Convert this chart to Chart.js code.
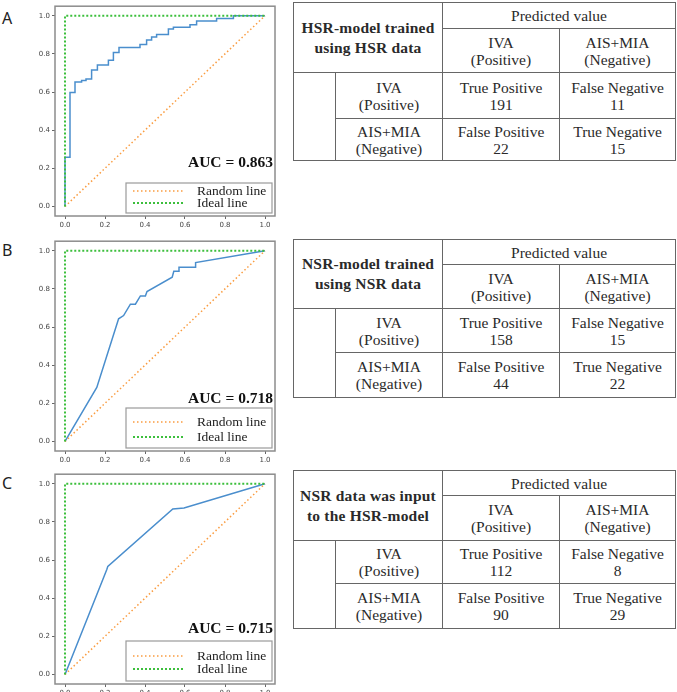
<!DOCTYPE html>
<html>
<head>
<meta charset="utf-8">
<script src="https://cdn.jsdelivr.net/npm/chart.js@4.4.0/dist/chart.umd.min.js"></script>
<style>
body { margin:0; width:677px; height:692px; overflow:hidden; background:#fff; position:relative; }
.letter { position:absolute; left:2px; font-family:"Noto Sans", sans-serif; font-size:16px; color:#222; line-height:1; }
canvas { position:absolute; left:0; }
table.cm { position:absolute; left:293px; border-collapse:collapse; table-layout:fixed; width:382px;
  font-family:"Liberation Serif", "Times New Roman", serif; font-size:15.5px; color:#2a2a2a; border:1.5px solid #555; }
table.cm td { border:1px solid #666; text-align:center; vertical-align:middle; padding:0; line-height:17px; }
table.cm td.title { font-weight:bold; font-size:15.5px; line-height:20px; letter-spacing:0.2px; }
</style>
</head>
<body>
<script>
// ROC curves
const fprA = [0, 0, 0.025, 0.05, 0.083, 0.105, 0.133, 0.162, 0.217, 0.242, 0.27, 0.375, 0.408, 0.433, 0.458, 0.517, 0.542, 0.625, 0.658, 0.758, 0.842, 1.0]
const tprA = [0, 0.258, 0.597, 0.653, 0.66, 0.668, 0.715, 0.742, 0.766, 0.807, 0.834, 0.849, 0.873, 0.888, 0.902, 0.931, 0.94, 0.953, 0.973, 0.986, 1.0, 1.0]
const fprB = [0, 0.159, 0.268, 0.293, 0.327, 0.352, 0.377, 0.402, 0.41, 0.536, 0.544, 0.57, 0.57, 0.65, 0.653, 1.0]
const tprB = [0, 0.283, 0.643, 0.66, 0.72, 0.72, 0.763, 0.763, 0.786, 0.861, 0.892, 0.892, 0.914, 0.914, 0.938, 1.0]
const fprC = [0, 0.209, 0.214, 0.539, 0.595, 1.0]
const tprC = [0, 0.55, 0.567, 0.868, 0.873, 1.0]

const randomX = [0, 1]
const randomY = [0, 1]
const idealX = [0, 0, 1]
const idealY = [0, 1, 1]

const tickValues = [0, 0.2, 0.4, 0.6, 0.8, 1.0]
const panelLetters = ['A', 'B', 'C']
const aucValues = [0.863, 0.718, 0.715]

// confusion matrices
const tableTitles = [['HSR-model trained', 'using HSR data'], ['NSR-model trained', 'using NSR data'], ['NSR data was input', 'to the HSR-model']]
const classLabels = [['IVA', '(Positive)'], ['AIS+MIA', '(Negative)']]
const truePositive = [191, 158, 112]
const falseNegative = [11, 15, 8]
const falsePositive = [22, 44, 90]
const trueNegative = [15, 22, 29]

// layout (pixels)
const canvasTops = [0, 235, 468]
const letterTops = [10, 242, 475]
const tableTops = [2, 239, 470]
const tableRows = [[26, 44, 46, 42], [25, 44, 44, 45], [25, 45, 43, 45]]
const legendLayout = [
  { box: 33, rows: [25, 13], auc: 53 },
  { box: 43, rows: [29, 14], auc: 52 },
  { box: 43, rows: [28, 15], auc: 55 }
]

const rocDecor = {
  id: 'rocDecor',
  afterDatasetsDraw(chart, args, opts) {
    const ctx = chart.ctx
    const a = chart.chartArea
    ctx.save()
    ctx.strokeStyle = '#8c8c8c'
    ctx.lineWidth = 1.5
    ctx.strokeRect(a.left, a.top, a.right - a.left, a.bottom - a.top)

    // AUC text
    ctx.fillStyle = '#111'
    ctx.font = 'bold 15.5px "Liberation Serif"'
    ctx.textAlign = 'right'
    ctx.textBaseline = 'middle'
    ctx.fillText('AUC = ' + opts.auc.toFixed(3), a.right - 2, a.bottom - opts.layout.auc)

    // legend box
    const bx = a.left + 71, by = a.bottom - opts.layout.box
    const bw = a.right - 3 - bx, bh = opts.layout.box - 3
    ctx.fillStyle = '#fff'
    ctx.fillRect(bx, by, bw, bh)
    ctx.strokeStyle = '#9a9a9a'
    ctx.lineWidth = 1.2
    ctx.strokeRect(bx, by, bw, bh)
    const items = chart.data.datasets.filter(d => d.showInLegend)
    items.forEach((d, i) => {
      const y = a.bottom - opts.layout.rows[i]
      ctx.strokeStyle = d.borderColor
      ctx.lineWidth = d.borderWidth
      ctx.setLineDash(d.borderDash)
      ctx.beginPath()
      ctx.moveTo(bx + 7, y)
      ctx.lineTo(bx + 59, y)
      ctx.stroke()
      ctx.setLineDash([])
      ctx.fillStyle = '#222'
      ctx.font = '13.5px "Liberation Serif"'
      ctx.textAlign = 'left'
      ctx.fillText(d.label, bx + 71, y)
    })
    ctx.restore()
  }
}

function pts(xs, ys) {
  return xs.map((x, i) => ({ x: x, y: ys[i] }))
}

function axis() {
  return {
    type: 'linear',
    min: -0.05,
    max: 1.05,
    afterBuildTicks: (ax) => { ax.ticks = tickValues.map(v => ({ value: v })) },
    ticks: { color: '#444', font: { family: 'DejaVu Sans', size: 7 }, padding: 2,
      callback: (v) => Number(v).toFixed(1) },
    grid: { display: true, drawOnChartArea: false, drawTicks: true, tickLength: 3, color: '#666' },
    border: { display: false }
  }
}

const rocSets = [[fprA, tprA], [fprB, tprB], [fprC, tprC]]
const stepModes = ['before', false, false]

rocSets.forEach((roc, p) => {
  const letter = document.createElement('div')
  letter.className = 'letter'
  letter.style.top = letterTops[p] + 'px'
  letter.textContent = panelLetters[p]
  document.body.appendChild(letter)

  const canvas = document.createElement('canvas')
  canvas.width = 280
  canvas.height = 232
  canvas.style.top = canvasTops[p] + 'px'
  document.body.appendChild(canvas)

  const xAxis = axis()
  xAxis.afterFit = (s) => { s.height = 16 }
  const yAxis = axis()
  yAxis.afterFit = (s) => { s.width = 55 }

  new Chart(canvas.getContext('2d'), {
    type: 'line',
    data: {
      datasets: [
        { label: 'ROC', data: pts(roc[0], roc[1]), borderColor: '#4a8ecd', borderWidth: 1.5,
          stepped: stepModes[p], pointRadius: 0, order: 3, showInLegend: false },
        { label: 'Random line', data: pts(randomX, randomY), borderColor: '#fa9c40', borderWidth: 1.5,
          borderDash: [1.5, 2.5], pointRadius: 0, order: 2, showInLegend: true },
        { label: 'Ideal line', data: pts(idealX, idealY), borderColor: '#3cbf3c', borderWidth: 2,
          borderDash: [2, 2], pointRadius: 0, order: 1, showInLegend: true }
      ]
    },
    options: {
      responsive: false,
      animation: false,
      devicePixelRatio: 1,
      layout: { padding: { top: 1, right: 5, left: 0, bottom: 0 } },
      scales: { x: xAxis, y: yAxis },
      plugins: {
        legend: { display: false },
        tooltip: { enabled: false },
        rocDecor: { auc: aucValues[p], layout: legendLayout[p] }
      }
    },
    plugins: [rocDecor]
  })

  // confusion matrix table
  const rows = tableRows[p]
  const cell = (lines, attrs) => '<td' + (attrs || '') + '>' + lines.join('<br>') + '</td>'
  let html = '<colgroup><col style="width:42px"><col style="width:107px"><col style="width:117px"><col style="width:116px"></colgroup>'
  html += '<tr style="height:' + rows[0] + 'px">' + cell(tableTitles[p], ' class="title" colspan="2" rowspan="2"') +
    cell(['Predicted value'], ' colspan="2"') + '</tr>'
  html += '<tr style="height:' + rows[1] + 'px">' + cell(classLabels[0]) + cell(classLabels[1]) + '</tr>'
  html += '<tr style="height:' + rows[2] + 'px">' + cell([''], ' rowspan="2"') + cell(classLabels[0]) +
    cell(['True Positive', truePositive[p]]) + cell(['False Negative', falseNegative[p]]) + '</tr>'
  html += '<tr style="height:' + rows[3] + 'px">' + cell(classLabels[1]) +
    cell(['False Positive', falsePositive[p]]) + cell(['True Negative', trueNegative[p]]) + '</tr>'
  const table = document.createElement('table')
  table.className = 'cm'
  table.style.top = tableTops[p] + 'px'
  table.innerHTML = html
  document.body.appendChild(table)
})
</script>
</body>
</html>
